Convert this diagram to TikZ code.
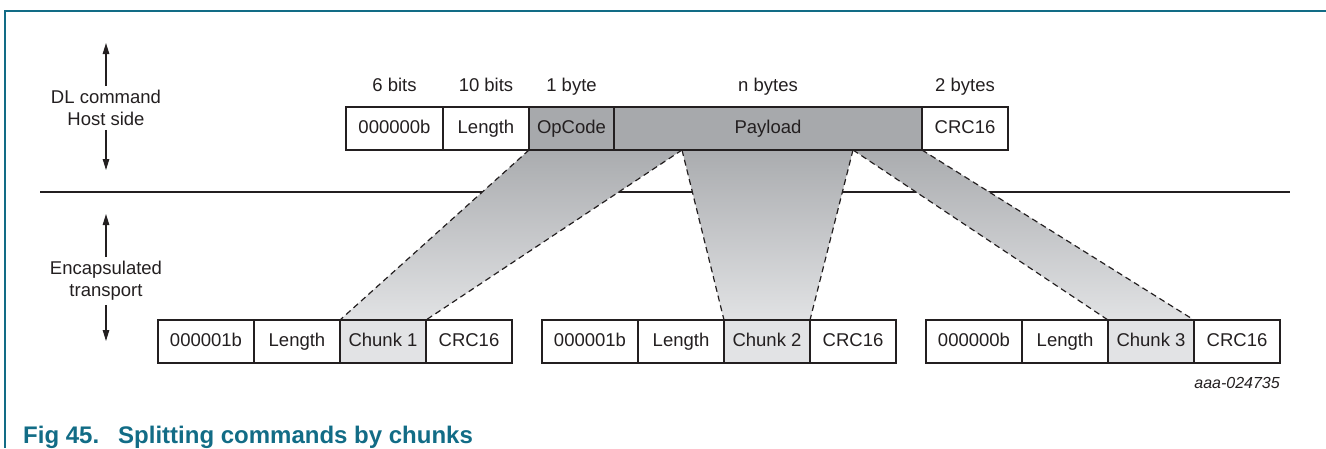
\documentclass[tikz,border=0pt]{standalone}
\usepackage{fontspec}
\setmainfont{Liberation Sans}
\usetikzlibrary{arrows.meta,backgrounds}
\definecolor{nxpteal}{RGB}{18,108,134}
\definecolor{ink}{RGB}{35,31,32}
\definecolor{darkfill}{RGB}{167,169,172}
\definecolor{lightfill}{RGB}{226,227,229}
\definecolor{shadetop}{RGB}{170,172,175}
\definecolor{shadebot}{RGB}{225,226,228}
\begin{document}
\begin{tikzpicture}[x=1pt,y=-1pt,
  txt/.style={font=\fontsize{18.5}{22}\selectfont, text=ink},
  cell/.style={txt, draw=ink, line width=2.4pt, minimum height=43pt, inner sep=0pt, outer sep=0pt, text height=13.5pt, text depth=3pt},
  lbl/.style={txt, inner sep=0pt, text height=13.5pt, text depth=3pt},
  side/.style={txt, align=center, inner sep=4pt},
  arr/.style={draw=ink, line width=1.2pt, -{Triangle[length=11pt,width=6.5pt]}},
  dashline/.style={draw=ink, line width=1.2pt, dash pattern=on 6pt off 4pt},
  shadefill/.style={top color=shadetop, bottom color=shadebot},
  frameline/.style={draw=nxpteal, line width=1.7pt},
  sepline/.style={draw=ink, line width=2.5pt}]
\useasboundingbox (0,0) rectangle (1326,448);
% frame
\draw[frameline] (1326,11) -- (5,11) -- (5,448);
% left side labels
\node[side] (l1) at (106,108) {DL command\\Host side};
\coordinate (a1) at (106,43);
\coordinate (a2) at (106,170);
\draw[arr] (l1.north) -- (a1);
\draw[arr] (l1.south) -- (a2);
\node[side] (l2) at (106,281) {Encapsulated\\transport};
\coordinate (a3) at (106,214);
\coordinate (a4) at (106,341);
\draw[arr] (l2.north) -- (a3);
\draw[arr] (l2.south) -- (a4);
% top row
\node[cell, minimum width=97pt] (t1) at (394.5,128.5) {000000b};
\node[cell, minimum width=86pt] (t2) at (486,128.5) {Length};
\node[cell, minimum width=85pt, fill=darkfill] (t3) at (571.5,128.5) {OpCode};
\node[cell, minimum width=308pt, fill=darkfill] (t4) at (768,128.5) {Payload};
\node[cell, minimum width=86pt] (t5) at (965,128.5) {CRC16};
\node[lbl] (s1) at (394.5,86) {6 bits};
\node[lbl] (s2) at (486,86) {10 bits};
\node[lbl] (s3) at (571.5,86) {1 byte};
\node[lbl] (s4) at (768,86) {n bytes};
\node[lbl] (s5) at (965,86) {2 bytes};
% bottom rows
\foreach \g/\i/\a in {158/1/000001b, 542/2/000001b, 926/3/000000b}{
  \node[cell, minimum width=96pt] (b\i1) at (\g+48,341.5) {\a};
  \node[cell, minimum width=86pt] (b\i2) at (\g+139,341.5) {Length};
  \node[cell, minimum width=86pt, fill=lightfill] (b\i3) at (\g+225,341.5) {Chunk \i};
  \node[cell, minimum width=86pt] (b\i4) at (\g+311,341.5) {CRC16};
}
\coordinate (p1) at ([xshift=68pt]t4.south west);
\coordinate (p2) at ([xshift=239pt]t4.south west);
\begin{scope}[on background layer]
  \draw[sepline] (40,192) -- (1290,192);
  \shade[shadefill] (t3.south west) -- (p1) -- (b13.north east) -- (b13.north west) -- cycle;
  \shade[shadefill] (p1) -- (p2) -- (b23.north east) -- (b23.north west) -- cycle;
  \shade[shadefill] (p2) -- (t5.south west) -- (b33.north east) -- (b33.north west) -- cycle;
  \draw[dashline] (t3.south west) -- (b13.north west);
  \draw[dashline] (p1) -- (b13.north east);
  \draw[dashline] (p1) -- (b23.north west);
  \draw[dashline] (p2) -- (b23.north east);
  \draw[dashline] (p2) -- (b33.north west);
  \draw[dashline] (t5.south west) -- (b33.north east);
\end{scope}
% figure id
\node[anchor=base east, inner sep=0pt, font=\fontsize{16}{18}\selectfont\itshape, text=ink] (fid) at (1280,388) {aaa-024735};
% caption
\node[anchor=base west, inner sep=0pt, font=\fontsize{24}{28}\selectfont\bfseries, text=nxpteal] (cap1) at (23,443) {Fig 45.};
\node[anchor=base west, inner sep=0pt, font=\fontsize{24}{28}\selectfont\bfseries, text=nxpteal] (cap2) at (118,443) {Splitting commands by chunks};
\end{tikzpicture}
\end{document}
